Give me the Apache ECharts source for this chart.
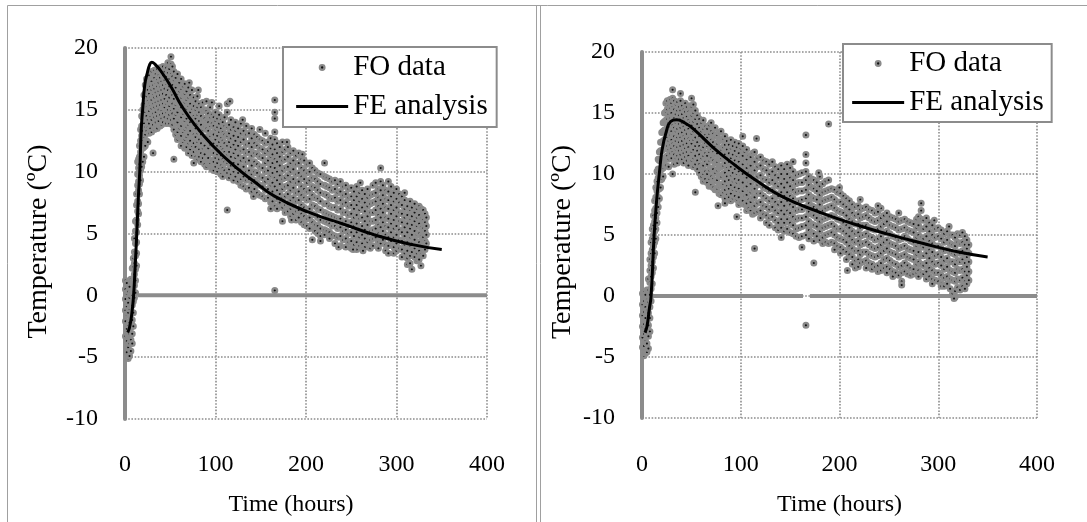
<!DOCTYPE html>
<html><head><meta charset="utf-8">
<script src="https://cdn.jsdelivr.net/npm/echarts@6/dist/echarts.min.js"></script>
<style>html,body{margin:0;padding:0;background:#fff}#c{width:1087px;height:522px}</style>
</head><body><div id="c"></div>
<script>
const xTicks = [0,100,200,300,400];
const yTicks = [-10,-5,0,5,10,15,20];

// FO readings: [time, [temperatures at that time]]
const foLeft = [
[0.5,[1.2,0.5,-0.3,-1.2,-2.1,-3.3]],[2,[1,0.1,-0.9,-1.6,-2.7,-3.7,-4.6]],[3.5,[0.3,-0.6,-1.4,-2.4,-3.2,-4.2,-5.1]],
[5,[0.7,-0.2,-1.1,-2.2,-3.1,-3.9,-4.9]],[6.5,[1.3,0.2,-0.9,-1.9,-2.6,-3.6,-4.5]],[8,[2.2,1.1,0,-0.8,-2,-3.1,-3.9]],
[9.2,[3,2.3,1.2,0.3,-0.5,-1.4,-2.5]],[10.4,[4.6,3.5,2.6,1.7,0.8,-0.2]],[11.6,[6,5.2,4.2,3.2,2.1,1.2,0.2]],
[12.8,[8.2,7.3,6.1,5.1,4.3,3.4,2.4]],[14,[10.8,9.8,8.9,7.6,6.8,5.7]],[15,[11,10.3,9.2,8.5,7.4,6.6]],
[16,[12.1,11.2,10.6,9.7,9,8.2]],[17.2,[13.4,12.5,11.6,11,10.1,9.3]],[18.4,[14.5,13.7,12.9,12.2,11.1,10.4]],
[19.6,[15,14.4,13.3,12.6,11.9,10.8]],[21,[16.2,15.4,14.6,13.9,12.8,12,11.2]],[22.4,[17,16.3,15.5,14.8,13.6,13,12.1]],
[23.8,[17.5,16.7,16.1,15.2,14.5,13.3,12.5]],[25.2,[17.2,16.6,15.7,15,14.2,13.6,12.4]],[26.6,[17.8,17,16.3,15.5,14.9,13.9,13.1]],
[28,[17.4,16.9,16,15.3,14.4,13.5]],[29.4,[18.1,17.3,16.6,15.8,15.1,14.2,13.2]],[31,[17.7,17,16.2,15.5,14.7,13.8,11.5]],
[32.5,[18.2,17.6,16.7,16,15.2,14.4,13.4]],[34,[17.9,17.1,16.4,15.6,14.8,14,13.6]],[35.6,[18.3,17.4,16.9,16.1,15.3,14.5,13.5]],
[37.2,[17.8,17.2,16.5,15.7,15,14.1]],[38.8,[18.4,17.6,16.8,16.2,15.4,14.6,13.7]],[40.4,[18,17.3,16.6,15.8,14.9,14.3,13.8]],
[42,[18.5,17.8,17,16.3,15.5,14.7,14]],[43.8,[18.1,17.4,16.7,15.9,15.2,14.4]],[45.6,[18.4,17.7,17.1,16.2,15.5,14.8,13.9]],
[47.4,[18.8,18,17.3,16.6,15.7,15,14.3]],[49,[18.3,17.5,16.9,16,15.3,14.6,13.9]],[50.8,[19.3,18.7,17.9,17.2,16.4,15.6,14.9,14.2]],
[52.4,[18.5,17.7,17,16.2,15.5,14.7,13.8]],[54,[18.1,17.4,16.6,15.9,15.1,14.3,13.4,11]],[56,[17.6,16.8,16.2,15.4,14.6,13.9,13]],
[58,[17.9,17.1,16.3,15.6,14.8,14,13.2,12.6]],[60,[17.2,16.5,15.7,15.1,14.3,13.5,12.8]],[62,[17.5,16.7,16,15.2,14.4,13.7,12.9,12.1]],
[64,[16.9,16.2,15.5,14.7,14,13.2,12.4]],[66,[17.1,16.3,15.6,14.9,14.1,13.4,12.6,11.9]],[68,[16.5,15.8,15.1,14.3,13.6,12.8,12]],
[70,[16.8,16,15.3,14.6,13.8,13,12.3,11.5]],[72,[16.2,15.5,14.8,14,13.3,12.5,11.8]],[74,[16.6,15.9,15.1,14.4,13.7,12.9,12.1,11.3]],
[76,[16,15.3,14.5,13.8,13,12.3,11.6]],[78,[15.7,15,14.3,13.5,12.8,12,11.2]],[80,[16.1,15.2,14.6,13.9,13.1,12.4,11.7,11]],
[82,[15.5,14.8,14.1,13.3,12.6,11.8,11.2]],[84,[15.2,14.5,13.8,13,12.3,11.5,10.8]],[86,[15.6,14.9,14.2,13.4,12.7,11.9,11.1]],
[88,[15,14.3,13.6,12.8,12.1,11.4,10.6]],[90,[15.7,14.9,14.1,13.5,12.6,11.8,11,10.4]],[92,[14.7,14,13.3,12.5,11.9,11.1,10.6]],
[94,[15.2,14.4,13.7,12.9,12.2,11.5,10.7]],[96,[15.6,14.6,13.9,13.1,12.4,11.6,10.9,10.2]],[98,[14.4,13.7,13,12.3,11.5,10.8,10.1]],
[100,[14.8,14.1,13.4,12.6,11.9,11.1,10.4]],[102,[14.3,13.6,12.9,12.1,11.4,10.7,10]],[104,[15.3,14.6,13.9,13.2,12.4,11.7,11,10.3]],
[106,[14.2,13.5,12.7,12,11.3,10.5,9.8]],[108,[14,13.2,12.5,11.8,11,10.3,9.6]],[110,[14.4,13.7,13,12.3,11.6,10.8,10.1]],
[113,[15.5,14.8,13.6,12.9,12.1,11.4,10.7,9.9,6.9]],[115,[13.8,13.1,12.4,11.6,10.9,10.2,9.5]],[117,[14.2,13.4,12.7,12,11.2,10.5,9.8]],
[120,[13.6,12.9,12.2,11.5,10.7,10,9.3]],[122,[14,13.3,12.5,11.8,11.1,10.3,9.6]],[125,[13.5,12.8,12.1,11.3,10.6,9.9,9.2]],
[128,[13.9,13.1,12.4,11.7,10.9,10.2,9.4,8.9]],[131,[13.3,12.6,11.8,11.1,10.4,9.6,8.8]],[134,[13.7,13,12.2,11.5,10.8,10,9.3,8.6]],
[137,[13.1,12.3,11.6,10.9,10.1,9.4,8.7]],[140,[13.5,12.7,12,11.3,10.5,9.8,9.1,8.4]],[143,[13,12.3,11.5,10.8,10,9.3,8.6]],
[146,[12.8,12.1,11.4,10.6,9.9,9.1,8.3]],[149,[13.4,12.6,11.9,11.2,10.4,9.6,8.9,8.1]],[152,[12.5,11.8,11.1,10.3,9.5,8.8,8]],
[155,[13.1,12.3,11.5,10.7,10,9.2,8.5,7.8]],[158,[12.4,11.7,10.9,10.1,9.4,8.6,7.9]],[161,[12.7,11.9,11.2,10.4,9.7,8.9,8.2,7.5]],
[163,[12.2,11.4,10.7,9.9,9.1,8.4,7.6]],[165.5,[15.8,14.8,14.3,13.2,12.6,11.8,11,10.3,9.5,8.8,8,7.2,0.4]],[168,[12.3,11.5,10.8,10,9.3,8.5,7.8,7]],
[171,[12,11.2,10.5,9.7,9,8.2,7.5]],[174,[12.4,11.6,10.9,10.1,9.4,8.6,7.9,7.1,6]],[177,[11.8,11,10.3,9.5,8.8,8,7.3,6.7]],
[180,[12,11.2,10.4,9.7,8.9,8.2,7.4,6.8]],[183,[11.5,10.7,10,9.2,8.5,7.7,7,6.4]],[186,[11.7,10.9,10.2,9.4,8.7,7.9,7.2,6.6]],
[189,[11.3,10.6,9.8,9.1,8.3,7.6,6.8,6.1]],[192,[11.5,10.7,9.9,9.2,8.4,7.7,6.9,6.3]],[195,[11,10.3,9.6,8.8,8.1,7.3,6.6,5.9]],
[198,[10.9,10.1,9.4,8.6,7.9,7.1,6.4,5.7]],[201,[10.6,9.9,9.1,8.4,7.7,6.9,6.2,5.6]],[204,[10.7,10,9.3,8.5,7.8,7,6.3,5.4]],
[207,[10.3,9.5,8.8,8.1,7.3,6.6,5.9,4.5]],[210,[10.1,9.4,8.7,7.9,7.2,6.5,5.7,5.2]],[213,[9.9,9.2,8.5,7.8,7,6.3,5.6,5]],
[216,[9.8,9,8.3,7.6,6.9,6.1,5.4,4.8]],[220.5,[10.7,9.6,8.9,8.2,7.4,6.7,6,5.3,4.9]],[223,[9.5,8.8,8.1,7.4,6.6,5.9,5.2]],
[226,[9.4,8.7,7.9,7.2,6.5,5.8,5.1,4.6]],[229,[9.2,8.5,7.8,7.1,6.4,5.6,4.9]],[232,[9.3,8.6,7.9,7.1,6.3,5.6,4.8,4.2]],
[235,[9,8.3,7.6,6.9,6.2,5.4,4.7]],[238,[9.2,8.4,7.7,7,6.2,5.5,4.8,4]],[241,[8.8,8.1,7.4,6.7,5.9,5.2,4.5]],
[244,[8.9,8.2,7.5,6.7,6,5.3,4.6,3.9]],[247,[8.6,7.9,7.2,6.5,5.7,5,4.3]],[250,[8.7,8,7.3,6.6,5.9,5.1,4.4,3.8]],
[253,[8.4,7.7,7,6.3,5.6,4.8,4.1]],[256,[8.8,8,7.3,6.5,5.8,5.1,4.3,3.7]],[259,[8.3,7.6,6.9,6.2,5.4,4.7,4]],
[262,[8.5,7.8,7.1,6.3,5.6,4.9,4.2,3.8]],[265,[8.2,7.5,6.8,6,5.3,4.6,3.9]],[268,[8.6,7.9,7.2,6.4,5.7,5,4.3]],
[271,[8.1,7.4,6.7,6,5.2,4.5,3.8]],[274,[8.9,8.2,7.5,6.7,6,5.3,4.6,4]],[277,[9.1,8.3,7.6,6.9,6.1,5.4,4.7]],
[280,[8.6,7.9,7.2,6.5,5.7,5,4.3,3.8]],[282.5,[10.3,9.2,8.5,7.7,7,6.3,5.5,4.8,4.2]],[285,[8.9,8.1,7.4,6.7,5.9,5.2,4.5]],
[288,[8.5,7.8,7.1,6.3,5.6,4.9,4.1,3.6]],[291,[9.2,8.4,7.7,7,6.2,5.5,4.7,4]],[294,[8.8,8,7.3,6.6,5.8,5.1,4.4]],
[297,[8.3,7.6,6.9,6.1,5.4,4.7,3.9,3.4]],[300,[8.6,7.8,7.1,6.4,5.6,4.9,4.2,3.6]],[303,[8.2,7.5,6.7,6,5.3,4.5,3.8]],
[306,[8,7.3,6.6,5.9,5.1,4.4,3.7,3.1]],[309,[7.7,7,6.3,5.5,4.8,4.1,3.4]],[312,[7.2,6.5,5.8,5.1,4.3,3.6,3,2.5]],
[315,[7.6,6.9,6.2,5.4,4.7,4,3.2,2.6]],[317,[7.1,6.4,5.7,4.9,4.2,3.5,2.1]],[320,[7.4,6.7,6,5.2,4.5,3.8,3.1]],
[322.5,[7,6.3,5.6,4.9,4.1,3.4,2.8]],[325,[7.2,6.5,5.8,5,4.3,3.6,2.9]],[327,[7,6.2,5.5,4.8,4,3.3,2.4]],
[329.5,[6.9,6.1,5.4,4.7,3.9,3.2]],[331.5,[6.6,5.9,5.2,4.4,3.7]],[333,[6.3,5.6,4.9,4.2]],
[71,[17.2]],[81,[16.6]],[116,[15.7]],[130,[14.2]],[179,[12.4]],[196,[11.4]],[260,[9.1]],[309,[8.3]],
[76,[10.7]],[142,[8]],[161,[7]],[184,[6.1]],[216,[4.4]],[236,[3.9]],[252,[3.7]],[263,[3.6]],[291,[3.4]]
];
const foRight = [
[0.5,[0.2,-0.7,-1.6,-2.5,-3.4,-4.2]],[2,[0.3,-0.4,-1.3,-2.3,-3.1,-4.1,-4.9]],[3.5,[0.1,-0.9,-1.8,-2.7,-3.7,-4.7]],
[5,[0.5,-0.3,-1.2,-2.2,-3,-3.9,-4.6]],[6.5,[1.4,0.5,-0.5,-1.4,-2.4,-3.3,-4.3]],[8,[3,2.1,1.1,0.1,-0.9,-1.8,-2.9]],
[9.2,[4.4,3.5,2.5,1.6,0.6,-0.4]],[10.4,[5.5,4.7,3.8,2.8,1.9,1]],[11.6,[6.6,5.8,5,4.1,3.2,2.3]],
[12.8,[7.8,7,6.1,5.3,4.4,3.5]],[14,[8.9,8.1,7.2,6.4,5.5,4.7]],[15.2,[10.2,9.4,8.6,7.7,6.8,6]],
[16.4,[11.2,10.4,9.7,8.9,8.1,7.3]],[17.6,[11.8,11.1,10.3,9.6,8.8,8]],[18.8,[12.6,11.9,11.1,10.3,9.5,8.9]],
[20,[13.4,12.6,11.9,11.1,10.4,9.6]],[21.4,[14.2,13.5,12.7,12,11.2,10.5,9.8]],[22.8,[15,14.3,13.6,12.8,12.1,11.3,10.7]],
[24.2,[15.8,15.1,14.4,13.6,12.9,12.2,11.4,10.7]],[25.6,[16,15.3,14.5,13.8,13,12.3,11.5]],[27,[15.6,14.9,14.2,13.4,12.7,12,11.2,10.6]],
[28.4,[16.1,15.4,14.6,13.9,13.2,12.4,11.7]],[29.8,[15.8,15,14.3,13.5,12.8,12.1,11.3]],[31,[16.9,16.2,15.5,14.7,14,13.2,12.5,11.8,10]],
[32.6,[16,15.3,14.6,13.8,13.1,12.3,11.6,10.8]],[34.2,[15.7,14.9,14.2,13.5,12.7,12,11.3]],[35.8,[15.9,15.2,14.4,13.7,13,12.2,11.5,10.9]],
[37.4,[15.5,14.8,14.1,13.3,12.6,11.9,11.2]],[39,[16.6,16,15.2,14.5,13.8,13,12.3,11.6]],[40.6,[15.6,14.9,14.1,13.4,12.7,11.9,11.2]],
[42.2,[15.3,14.6,13.9,13.1,12.4,11.7,10.9]],[43.8,[15.8,15.1,14.3,13.6,12.9,12.1,11.4]],[45.4,[15.5,14.7,14,13.3,12.5,11.8,11.1]],
[47,[15.1,14.4,13.7,12.9,12.2,11.5,10.7]],[48.6,[15.6,14.9,14.2,13.4,12.7,11.9,11.2]],[50.2,[16.2,15.5,14.8,14,13.3,12.5,11.8,11.1]],
[52,[15.7,15,14.3,13.5,12.8,12,11.3,10.6]],[54,[15.2,14.5,13.7,13,12.3,11.5,10.8,8.5]],[56,[14.8,14.1,13.4,12.6,11.9,11.1,10.4]],
[58,[14.5,13.8,13.1,12.3,11.6,10.8,10.1]],[60,[14.2,13.5,12.8,12,11.3,10.6,9.8]],[62,[14.4,13.7,12.9,12.2,11.5,10.7,10,9.4]],
[64,[13.9,13.2,12.5,11.7,11,10.2,9.6]],[66,[13.7,13,12.3,11.5,10.8,10,9.3]],[68,[14,13.3,12.5,11.8,11.1,10.3,9.6,9]],
[70,[13.5,12.8,12,11.3,10.5,9.8,9.1]],[72,[13.3,12.6,11.8,11.1,10.4,9.6,8.9]],[74,[13.8,13.1,12.3,11.6,10.9,10.1,9.4,8.7]],
[76,[13.2,12.5,11.7,11,10.3,9.5,8.8]],[78,[13.4,12.7,12,11.2,10.5,9.8,9,8.4]],[80,[13.5,12.8,12,11.3,10.6,9.8,9.1,8.3]],
[82,[12.9,12.2,11.5,10.7,10,9.2,8.5]],[84,[13.1,12.4,11.6,10.9,10.1,9.4,8.7,8]],[86,[12.7,12,11.3,10.5,9.8,9,8.3]],
[88,[12.4,11.7,11,10.3,9.5,8.8,8.1]],[90,[12.8,12.1,11.3,10.6,9.9,9.1,8.4,7.8]],[92,[12.3,11.6,10.9,10.1,9.4,8.7,8]],
[94,[12.6,11.9,11.1,10.4,9.6,8.9,8.2]],[96,[12.2,11.5,10.8,10,9.3,8.6,7.9,6.5]],[98,[12.5,11.7,11,10.2,9.5,8.8,8.1,7.5]],
[100,[12.1,11.4,10.7,9.9,9.2,8.5,7.7]],[102,[13.1,12.3,11.5,10.8,10,9.3,8.6,7.8]],[104,[11.8,11.1,10.4,9.7,8.9,8.2,7.5]],
[106,[12,11.2,10.5,9.7,9,8.3,7.6,7]],[108,[11.5,10.8,10.1,9.3,8.6,7.9,7.2]],[110,[11.4,10.7,9.9,9.2,8.5,7.7,7]],
[112,[11.7,11,10.2,9.5,8.7,8,7.3,6.7]],[114,[11.8,11,10.3,9.5,8.8,8.1,7.4,6.8,3.9]],[117,[11.3,10.6,9.8,9.1,8.4,7.6,6.9]],
[120,[11.4,10.7,9.9,9.2,8.4,7.7,7,6.4]],[123,[11.1,10.4,9.6,8.9,8.2,7.4,6.7]],[126,[11,10.3,9.5,8.8,8,7.3,6.6,6]],
[129,[10.8,10,9.3,8.6,7.8,7.1,6.4,5.8]],[132,[11,10.2,9.5,8.7,8,7.3,6.5]],[135,[10.6,9.9,9.2,8.4,7.7,7,6.2,5.6]],
[138,[10.4,9.7,9,8.2,7.5,6.8,6,5.4]],[141,[10.7,10,9.2,8.5,7.7,7,6.3,5.6]],[144,[10.4,9.6,8.9,8.2,7.4,6.7,6,5.3]],
[147,[10.8,10,9.3,8.5,7.8,7,6.3,5.5]],[150,[10.5,9.7,9,8.2,7.5,6.8,6,5.2]],[153,[10.2,9.5,8.7,8,7.3,6.5,5.8,5.1]],
[156,[9.9,9.2,8.5,7.7,7,6.3,5.5,4.9]],[159,[10,9.3,8.6,7.8,7.1,6.4,5.6,4.8]],[162,[10.1,9.3,8.6,7.9,7.1,6.4,5.7,4.9]],
[166,[13.2,11.6,10.9,10.2,9.5,8.7,8,7.3,6.5,5.8,5,-2.4]],[169,[9.8,9.1,8.3,7.6,6.9,6.1,5.4,4.7]],[172,[9.6,8.9,8.1,7.4,6.7,5.9,5.2]],
[174,[9.5,8.8,8,7.3,6.6,5.8,5.1,4.5,2.7]],[177,[9.3,8.6,7.9,7.1,6.4,5.7,4.9]],[180,[9.8,9,8.3,7.5,6.8,6.1,5.3,4.6]],
[183,[9.2,8.5,7.8,7,6.3,5.6,4.8,4.3]],[186,[9.4,8.6,7.9,7.2,6.4,5.7,5,4.4]],[189,[14.1,9.5,8.7,8,7.3,6.5,5.8,5.1,4.3]],
[192,[8.8,8.1,7.4,6.6,5.9,5.2,4.4]],[195,[8.7,7.9,7.2,6.5,5.7,5,4.3,3.8]],[198,[8.5,7.7,7,6.3,5.5,4.8,4.1]],
[201,[8.4,7.7,6.9,6.2,5.5,4.7,4,3.5]],[204,[8.2,7.5,6.8,6,5.3,4.6,3.8]],[207,[8,7.3,6.6,5.8,5.1,4.4,3.6,3]],
[210,[7.8,7.1,6.3,5.6,4.9,4.1,3.4]],[213,[7.5,6.8,6.1,5.3,4.6,3.9,3.2,2.6]],[216,[7.3,6.6,5.9,5.1,4.4,3.7,2.9,2.3]],
[219,[7.4,6.7,5.9,5.2,4.5,3.7,3,2.4]],[221,[7.9,7.1,6.4,5.6,4.9,4.2,3.4,2.7]],[224,[7.2,6.5,5.8,5,4.3,3.6,2.8]],
[227,[7.3,6.6,5.8,5.1,4.4,3.6,2.9,2.3]],[230,[7.1,6.4,5.6,4.9,4.2,3.4,2.7]],[233,[7,6.2,5.5,4.8,4,3.3,2.6,2.2]],
[236,[6.8,6.1,5.4,4.6,3.9,3.2,2.4]],[239,[6.9,6.2,5.5,4.7,4,3.3,2.5,2]],[242,[7.2,6.4,5.7,4.9,4.2,3.5,2.7,2.1]],
[245,[6.6,5.9,5.2,4.4,3.7,3,2.3]],[248,[6.8,6.1,5.3,4.6,3.9,3.1,2.4,1.9]],[251,[6.5,5.8,5.1,4.3,3.6,2.9,2.2]],
[254,[6.4,5.7,4.9,4.2,3.5,2.7,2,1.6]],[257,[6.3,5.6,4.8,4.1,3.4,2.6,1.9]],[260,[6.8,6.1,5.4,4.6,3.9,3.2,2.4,1.7]],
[263,[6.2,5.5,4.7,4,3.3,2.5,1.9,1.2]],[266,[6.3,5.6,4.9,4.1,3.4,2.7,2]],[269,[6.1,5.4,4.7,3.9,3.2,2.5,1.8]],
[272,[6,5.3,4.5,3.8,3.1,2.3,1.7]],[275,[5.9,5.2,4.4,3.7,3,2.2,1.8]],[278,[6.3,5.6,4.8,4.1,3.4,2.6,1.9]],
[280,[6.5,5.8,5,4.3,3.6,2.8,2.1,1.6]],[282.7,[7.6,7,6.3,5.5,4.8,4.1,3.3,2.6,1.9]],[285,[6.2,5.5,4.7,4,3.3,2.5,1.8]],
[288,[6.4,5.7,4.9,4.2,3.5,2.7,2,1.4]],[291,[6,5.3,4.5,3.8,3.1,2.3,1.6]],[294,[5.8,5,4.3,3.6,2.8,2.1,1.4,1]],
[297,[5.5,4.8,4.1,3.3,2.6,1.9,1.3]],[300,[5.6,4.9,4.1,3.4,2.7,1.9,1.2]],[303,[5.4,4.7,3.9,3.2,2.5,1.7,1,0.8]],
[306,[5.1,4.4,3.7,2.9,2.2,1.5,0.8]],[309,[5.3,4.6,3.8,3.1,2.4,1.6,1]],[312,[5,4.3,3.6,2.8,2.1,1.4,0.6]],
[314.5,[5,4.2,3.5,2.8,2,1.3,0.2]],[317,[4.8,4.1,3.4,2.6,1.9,1.2,0.4,-0.1]],[319.5,[5.1,4.4,3.6,2.9,2.2,1.4,0.7]],
[322,[5,4.3,3.5,2.8,2.1,1.3,0.5]],[324.5,[5.2,4.4,3.7,3,2.2,1.5,0.8]],[327,[4.9,4.2,3.4,2.7,2,1.2,0.6]],
[329,[4.6,3.9,3.2,2.4,1.7,1]],[331,[4.2,3.5,2.8,2,1.3]],
[70,[14.2]],[116,[12.9]],[153,[11]],[179,[10.1]],[200,[8.9]],[239,[7.4]],[296,[6.2]],[311,[5.7]],
[77,[7.4]],[84,[7.6]],[141,[4.8]],[162,[4]],[208,[2.1]],[263,[0.9]],[316,[-0.2]]
];

// FE analysis curves
const feLeft = [[3,-3],[5,-2.6],[7.5,-1.5],[9.5,0],[11,2],[13,5],[14.8,8],[16.3,10],[18,13.5],[19.5,15],[21.8,17],[24.7,18],[27,18.6],[29.6,18.85],[33,18.7],[40,18.1],[51.3,16.8],[62.7,15.3],[78,13.7],[97,12.1],[120,10.5],[142.7,9.2],[165.6,8],[203.6,6.7],[241.7,5.75],[279.7,4.8],[317.7,4.1],[350,3.7]];
const feRight = [[3,-3],[5,-2.5],[7.5,-1],[9.2,0],[12.3,5],[15,8],[17.5,10],[20.4,12],[24.7,13.5],[29,14.3],[35,14.45],[43,14.2],[52,13.7],[73,12.1],[94.6,10.7],[115,9.5],[143,8.1],[179,6.9],[214.6,5.9],[250,5.05],[285,4.3],[320.6,3.6],[350,3.2]];

// thick zero line segments
const zeroLeft = [[14,0],[400,0]];
const zeroRight = [[10,0],[163,0],[null,null],[170,0],[400,0]];

const flat = rows => rows.flatMap(([t,vals]) => vals.map(v => [t,v]));

const FONT = 'Liberation Serif', GREY = '#8c8c8c';
const grids = [
  {left:125, top:48, width:362, height:372},
  {left:642, top:52, width:395, height:367}
];
const mkX = (i,margin,gap,pad) => ({type:'value', gridIndex:i, min:0, max:400, interval:100,
  axisLine:{show:false}, axisTick:{show:false},
  axisLabel:{color:'#000', fontFamily:FONT, fontSize:24, margin},
  splitLine:{show:true, lineStyle:{color:'#8c8c8c', type:'dotted', width:1.6}},
  name:'Time (hours)', nameLocation:'middle', nameGap:gap,
  nameTextStyle:{color:'#000', fontFamily:FONT, fontSize:24, padding:pad}});
const mkY = (i,gap,pad) => ({type:'value', gridIndex:i, min:-10, max:20, interval:5,
  axisLine:{show:true, onZero:false, lineStyle:{color:GREY, width:4}}, axisTick:{show:false},
  axisLabel:{color:'#000', fontFamily:FONT, fontSize:24, margin:27},
  splitLine:{show:true, lineStyle:{color:'#8c8c8c', type:'dotted', width:1.6}},
  name:'Temperature (ºC)', nameLocation:'middle', nameGap:gap,
  nameTextStyle:{color:'#000', fontFamily:FONT, fontSize:28, padding:pad}});

const zero = (i,d) => ({type:'line', xAxisIndex:i, yAxisIndex:i, name:'Zero', data:d, symbol:'none', silent:true,
  connectNulls:false, lineStyle:{color:GREY, width:4}, z:1});
const scatter = (i,d) => ({type:'scatter', xAxisIndex:i, yAxisIndex:i, name:'FO data', data:flat(d), symbol:'circle', symbolSize:4.5,
  itemStyle:{color:'#111', borderColor:'#8a8a8a', borderWidth:2.5, opacity:1}, z:2});
const curve = (i,d) => ({type:'line', xAxisIndex:i, yAxisIndex:i, name:'FE analysis', data:d, symbol:'none', smooth:0.5,
  lineStyle:{color:'#000', width:3}, itemStyle:{color:'#000'}, z:3});

const dotIcon = 'path://M0 0L0 0M52 20L52 20M23.7 10A2.3 2.3 0 1 0 28.3 10A2.3 2.3 0 1 0 23.7 10Z';
const lineIcon = 'path://M0 0L0 0M52 20L52 20M0 8.5L52 8.5L52 11.5L0 11.5Z';
const mkLegend = (left,top,pad) => ({left, top, orient:'vertical', show:true,
  backgroundColor:'#fff', borderColor:GREY, borderWidth:2, padding:pad,
  itemWidth:52, itemHeight:20, itemGap:10, z:10, selectedMode:false,
  textStyle:{color:'#000', fontFamily:FONT, fontSize:29},
  data:[{name:'FO data', icon:dotIcon, itemStyle:{color:'#111', borderColor:'#8a8a8a', borderWidth:2.3}},
        {name:'FE analysis', icon:lineIcon, itemStyle:{color:'#000', borderWidth:0}}]});

const frame = (x1,y1,x2,y2) => ({type:'line', silent:true, shape:{x1,y1,x2,y2}, style:{stroke:'#a0a0a0', lineWidth:1}});

const chart = echarts.init(document.getElementById('c'), null, {renderer:'canvas'});
chart.setOption({
  animation:false, backgroundColor:'#fff',
  grid:grids, xAxis:[mkX(0,34,74,[0,30,0,0]),mkX(1,35,75,[0,0,0,0])], yAxis:[mkY(0,72,[0,16,0,0]),mkY(1,65,[0,14,0,0])],
  legend:[mkLegend(283,47,[6,9,6,12]), mkLegend(843,44,[5,8,5,8])],
  series:[zero(0,zeroLeft), zero(1,zeroRight), scatter(0,foLeft), scatter(1,foRight), curve(0,feLeft), curve(1,feRight)],
  graphic:[frame(7.5,5.5,7.5,522), frame(7.5,5.5,1087,5.5), frame(536.5,5.5,536.5,522), frame(540.5,5.5,540.5,522)]
});
</script></body></html>
